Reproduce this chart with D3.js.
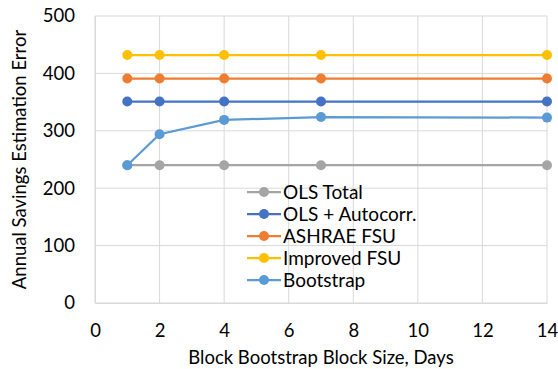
<!DOCTYPE html>
<html>
<head>
<meta charset="utf-8">
<script src="https://cdn.jsdelivr.net/npm/d3@7"></script>
<style>
  html, body { margin: 0; padding: 0; background: #fff; }
  svg { display: block; font-family: Lato, "Open Sans", "Noto Sans", sans-serif; }
</style>
</head>
<body>
<svg id="chart" width="558" height="369"></svg>
<script>
// Block sizes (days) along the x axis
const blockSizes = [1, 2, 4, 7, 14];

// Annual savings estimation error per method
const olsTotal      = [240, 240, 240, 240, 240];
const olsAutocorr   = [351, 351, 351, 351, 351];
const ashraeFsu     = [391, 391, 391, 391, 391];
const improvedFsu   = [432, 432, 432, 432, 432];
const bootstrap     = [240, 294, 319, 324, 323];

const seriesNames  = ["OLS Total", "OLS + Autocorr.", "ASHRAE FSU", "Improved FSU", "Bootstrap"];
const seriesValues = [olsTotal, olsAutocorr, ashraeFsu, improvedFsu, bootstrap];
const seriesColors = ["#A5A5A5", "#4472C4", "#ED7D31", "#FFC000", "#5B9BD5"];

const xTicks = [0, 2, 4, 6, 8, 10, 12, 14];
const yTicks = [0, 100, 200, 300, 400, 500];

const svg = d3.select("#chart");
const margin = { left: 95, right: 11, top: 16, bottom: 66 };
const W = 558, H = 369;
const fontSize = "18.5px";
const legendFontSize = "19px";

const x = d3.scaleLinear().domain([0, 14]).range([margin.left, W - margin.right]);
const y = d3.scaleLinear().domain([0, 500]).range([H - margin.bottom, margin.top]);

const gridColor = "#D9D9D9";

// Gridlines
svg.append("g").selectAll("line").data(xTicks).join("line")
  .attr("x1", d => x(d)).attr("x2", d => x(d))
  .attr("y1", y(0)).attr("y2", y(500))
  .attr("stroke", gridColor).attr("stroke-width", 1);
svg.append("g").selectAll("line").data(yTicks).join("line")
  .attr("x1", x(0)).attr("x2", x(14))
  .attr("y1", d => y(d)).attr("y2", d => y(d))
  .attr("stroke", gridColor).attr("stroke-width", 1);

// Axes
const xAxis = svg.append("g")
  .attr("transform", `translate(0,${y(0)})`)
  .call(d3.axisBottom(x).tickValues(xTicks).tickSize(0).tickPadding(21));
const yAxis = svg.append("g")
  .attr("transform", `translate(${x(0)},0)`)
  .call(d3.axisLeft(y).tickValues(yTicks).tickSize(0).tickPadding(20));
[xAxis, yAxis].forEach(a => {
  a.select(".domain").attr("stroke", gridColor);
  a.selectAll("text").attr("fill", "#000").attr("font-size", fontSize)
    .attr("font-family", "Lato, \"Open Sans\", sans-serif");
});

// Axis titles
svg.append("text")
  .attr("x", (x(0) + x(14)) / 2).attr("y", 364)
  .attr("text-anchor", "middle").attr("font-size", fontSize).attr("fill", "#000")
  .text("Block Bootstrap Block Size, Days");
svg.append("text")
  .attr("transform", `translate(26,${(y(0) + y(500)) / 2}) rotate(-90)`)
  .attr("text-anchor", "middle").attr("font-size", fontSize).attr("fill", "#000")
  .text("Annual Savings Estimation Error");

// Series lines and markers
const line = d3.line().x((d, i) => x(blockSizes[i])).y(d => y(d));
seriesValues.forEach((vals, s) => {
  const g = svg.append("g");
  g.append("path").datum(vals)
    .attr("d", line).attr("fill", "none")
    .attr("stroke", seriesColors[s]).attr("stroke-width", 2.25);
  g.selectAll("circle").data(vals).join("circle")
    .attr("cx", (d, i) => x(blockSizes[i])).attr("cy", d => y(d))
    .attr("r", 5).attr("fill", seriesColors[s]);
});

// Legend
const legend = svg.append("g").attr("transform", "translate(247,192)");
seriesNames.forEach((name, i) => {
  const row = legend.append("g").attr("transform", `translate(0,${i * 22})`);
  row.append("line").attr("x1", 0).attr("x2", 34).attr("y1", 0).attr("y2", 0)
    .attr("stroke", seriesColors[i]).attr("stroke-width", 2.25);
  row.append("circle").attr("cx", 17).attr("cy", 0).attr("r", 5).attr("fill", seriesColors[i]);
  row.append("text").attr("x", 36).attr("y", 0).attr("dy", "0.36em")
    .attr("font-size", legendFontSize).attr("fill", "#000").text(name);
});
</script>
</body>
</html>
